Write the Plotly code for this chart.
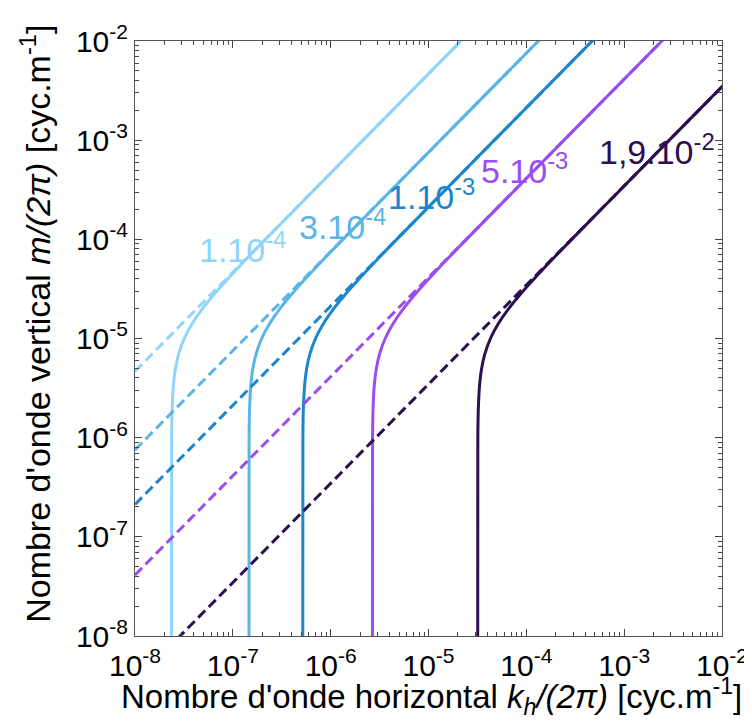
import plotly.graph_objects as go

# ---- data ----
labels = ["1.10<sup>-4</sup>", "3.10<sup>-4</sup>", "1.10<sup>-3</sup>", "5.10<sup>-3</sup>", "1,9.10<sup>-2</sup>"]
colors = ["#8fd4fa", "#5bb4e6", "#1b86cc", "#9b4def", "#2b0f4f"]

# solid curves: vertical wavenumber samples (shared) and horizontal wavenumber per curve
m_solid = [1e-9, 1e-6, 2e-6, 3.5e-6, 5e-6, 7e-6, 1e-5, 1.4e-5, 2e-5, 3e-5, 5e-5, 1e-4, 1e-3, 1e-2]
kh_light = [2.36e-8, 2.3697e-8, 2.3987e-8, 2.4766e-8, 2.5925e-8, 2.7973e-8, 3.1895e-8, 3.8199e-8,
            4.8972e-8, 6.8553e-8, 1.0984e-7, 2.1584e-7, 2.1456e-6, 2.1455e-5]
kh_medium = [1.46e-7, 1.4660e-7, 1.4839e-7, 1.5321e-7, 1.6038e-7, 1.7305e-7, 1.9732e-7, 2.3632e-7,
             3.0296e-7, 4.2410e-7, 6.7951e-7, 1.3353e-6, 1.3274e-5, 1.3273e-4]
kh_blue = [5.18e-7, 5.2012e-7, 5.2650e-7, 5.4359e-7, 5.6902e-7, 6.1399e-7, 7.0008e-7, 8.3843e-7,
           1.0749e-6, 1.5047e-6, 2.4109e-6, 4.7375e-6, 4.7094e-5, 4.7091e-4]
kh_purple = [2.67e-6, 2.6809e-6, 2.7138e-6, 2.8019e-6, 2.9330e-6, 3.1648e-6, 3.6085e-6, 4.3217e-6,
             5.5405e-6, 7.7558e-6, 1.2427e-5, 2.4419e-5, 2.4274e-4, 2.4273e-3]
kh_dark = [3.18e-5, 3.1930e-5, 3.2322e-5, 3.3371e-5, 3.4932e-5, 3.7693e-5, 4.2978e-5, 5.1471e-5,
           6.5988e-5, 9.2373e-5, 1.4800e-4, 2.9084e-4, 2.8911e-3, 2.8909e-2]

# dashed asymptotes: end points
kh_dashed = [1e-8, 1e-2]
m_dashed_light = [4.66e-6, 4.66]
m_dashed_medium = [7.53e-7, 0.753]
m_dashed_blue = [2.12e-7, 0.212]
m_dashed_purple = [4.12e-8, 0.0412]
m_dashed_dark = [3.46e-9, 3.46e-3]

decades = [-8, -7, -6, -5, -4, -3, -2]
tick_vals = [10.0 ** d for d in decades]
tick_text = ["10<sup>%d</sup>" % d for d in decades]

kh_all = [kh_light, kh_medium, kh_blue, kh_purple, kh_dark]
m_dashed_all = [m_dashed_light, m_dashed_medium, m_dashed_blue, m_dashed_purple, m_dashed_dark]

FONT = "Liberation Sans, Arial, sans-serif"

fig = go.Figure()
for kh, col in zip(kh_all, colors):
    fig.add_trace(go.Scatter(x=kh, y=m_solid, mode="lines",
                             line=dict(color=col, width=3, shape="spline", smoothing=0.6),
                             hoverinfo="skip"))
for md, col in zip(m_dashed_all, colors):
    fig.add_trace(go.Scatter(x=kh_dashed, y=md, mode="lines",
                             line=dict(color=col, width=3, dash="10px,5px"),
                             hoverinfo="skip"))

minor_vals = [k * 10.0 ** d for d in decades[:-1] for k in range(2, 10)]

axis_common = dict(
    type="log", range=[-8, -2], tickmode="array", tickvals=tick_vals, ticktext=tick_text,
    ticks="inside", ticklen=7, tickwidth=1, tickcolor="#444",
    showline=True, linecolor="#555", linewidth=1, mirror="ticks",
    showgrid=False, zeroline=False,
    tickfont=dict(family=FONT, size=30, color="black"),
    minor=dict(ticks="inside", ticklen=4, tickcolor="#444", tickmode="array",
               tickvals=minor_vals, showgrid=False),
)

fig.update_layout(
    width=752, height=722,
    margin=dict(l=127, r=30, t=33, b=94),
    paper_bgcolor="white", plot_bgcolor="white",
    showlegend=False,
    xaxis=dict(axis_common, ticklabelstandoff=3),
    yaxis=axis_common,
    font=dict(family=FONT, color="black"),
)

def px_to_paper(px, py):
    return (px - 127) / 595.0, (628 - py) / 595.0

annotations = []
label_pos = [(190, 263), (291, 240), (381, 210), (476, 184), (595, 165)]
for txt, col, (lx, ly) in zip(labels, colors, label_pos):
    xp, yp = px_to_paper(lx, ly)
    annotations.append(dict(text=txt, x=xp, y=yp, xref="paper", yref="paper",
                            xanchor="left", yanchor="bottom", showarrow=False,
                            font=dict(family=FONT, size=34, color=col)))

annotations.append(dict(
    text="Nombre d'onde horizontal <i>k<sub>h</sub>/(2π)</i> [cyc.m<sup>-1</sup>]",
    x=0.505, y=-0.058, xref="paper", yref="paper", xanchor="center", yanchor="top",
    showarrow=False, font=dict(family=FONT, size=33, color="black")))
annotations.append(dict(
    text="Nombre d'onde vertical <i>m/(2π)</i> [cyc.m<sup>-1</sup>]",
    x=-0.17, y=0.525, xref="paper", yref="paper", xanchor="center", yanchor="middle",
    textangle=-90, showarrow=False, font=dict(family=FONT, size=34, color="black")))

fig.update_layout(annotations=annotations)

fig.write_html("out.html")
